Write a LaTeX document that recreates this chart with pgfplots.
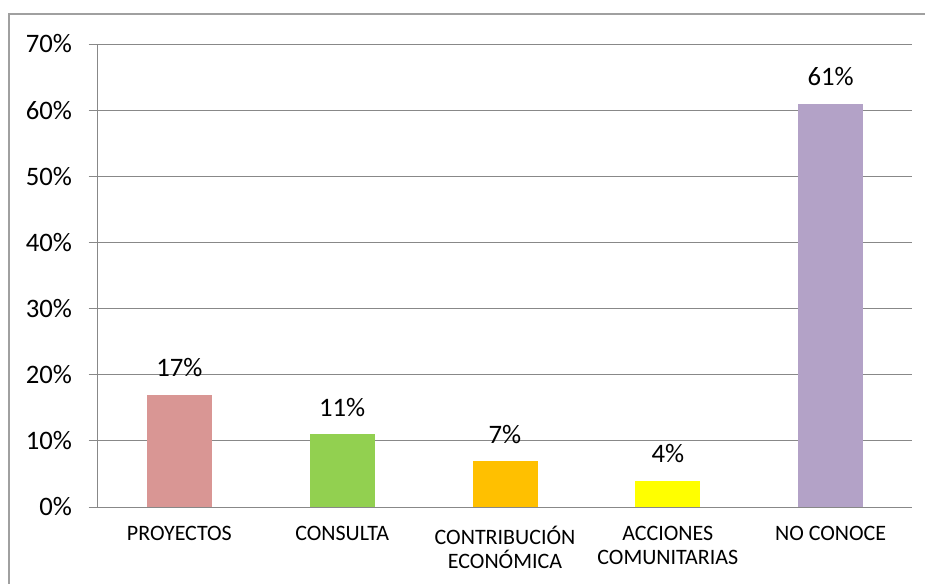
\documentclass[border=0pt]{standalone}
\usepackage{pgfplots}
\pgfplotsset{compat=1.18}
\usepackage{fontspec}
\setmainfont{Carlito}
\definecolor{gridc}{HTML}{888888}
\definecolor{framec}{HTML}{A0A0A0}
\definecolor{c1}{HTML}{D99694}
\definecolor{c2}{HTML}{92D050}
\definecolor{c3}{HTML}{FFC000}
\definecolor{c4}{HTML}{FFFF00}
\definecolor{c5}{HTML}{B3A2C7}
\begin{document}
\begin{tikzpicture}
\useasboundingbox (0,0) rectangle (693.75pt,437.25pt);
\draw[framec, line width=1.2pt] (700pt,426.75pt) -- (6.75pt,426.75pt) -- (6.75pt,-10pt);
\begin{axis}[
  at={(73.5pt,57pt)}, anchor=south west,
  scale only axis, width=610.5pt, height=347.25pt,
  xmin=-0.5, xmax=4.5, ymin=0, ymax=70,
  ytick={0,10,...,70},
  xtick={0,1,2,3,4},
  xticklabels={PROYECTOS,CONSULTA,{CONTRIBUCIÓN\\ECONÓMICA},{ACCIONES\\COMUNITARIAS},NO CONOCE},
  xticklabel style={align=center, font=\fontsize{16.5pt}{18pt}\selectfont, yshift=-4pt},
  yticklabel={\pgfmathprintnumber{\tick}\%},
  yticklabel style={font=\fontsize{20pt}{23pt}\selectfont, xshift=-9pt},
  /pgf/number format/assume math mode=true,
  ymajorgrids, grid style={gridc, line width=0.75pt},
  axis line style={gridc, line width=0.75pt},
  axis x line*=bottom, axis y line*=left,
  major tick length=7pt,
  ytick style={gridc, line width=0.75pt},
  x tick style={draw=none},
  tick align=outside,
  ybar, bar width=48.75pt, bar shift=0pt,
  nodes near coords={\pgfmathprintnumber{\pgfplotspointmeta}\%},
  every node near coord/.append style={font=\fontsize{20pt}{23pt}\selectfont, black, yshift=9.5pt},
  clip=false,
]
\addplot[fill=c1, draw=none] coordinates {(0,17)};
\addplot[fill=c2, draw=none] coordinates {(1,11)};
\addplot[fill=c3, draw=none] coordinates {(2,7)};
\addplot[fill=c4, draw=none] coordinates {(3,4)};
\addplot[fill=c5, draw=none] coordinates {(4,61)};
\end{axis}
\end{tikzpicture}
\end{document}
